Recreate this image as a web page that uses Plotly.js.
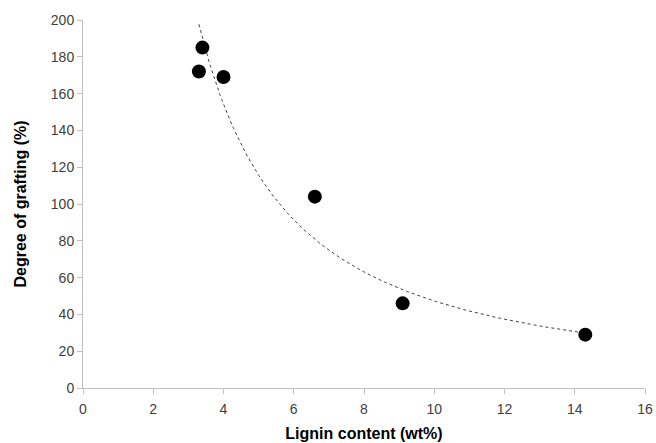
<!DOCTYPE html>
<html><head><meta charset="utf-8">
<script src="https://cdn.plot.ly/plotly-3.0.1.min.js"></script>
<style>html,body{margin:0;padding:0;background:#fff}#chart{width:656px;height:443px}</style>
</head><body><div id="chart"></div>
<script>
const ligninContent = [3.3, 3.4, 4.0, 6.6, 9.1, 14.3];
const degreeGrafting = [172, 185, 169, 104, 46, 29];
const xTicks = [0, 2, 4, 6, 8, 10, 12, 14, 16];
const yTicks = [0, 20, 40, 60, 80, 100, 120, 140, 160, 180, 200];

// Power trendline (least squares in log-log space), as Excel does
const lx = ligninContent.map(Math.log), ly = degreeGrafting.map(Math.log);
const n = lx.length;
const mx = lx.reduce((a,b)=>a+b,0)/n, my = ly.reduce((a,b)=>a+b,0)/n;
let sxy=0, sxx=0;
for (let i=0;i<n;i++){ sxy += (lx[i]-mx)*(ly[i]-my); sxx += (lx[i]-mx)**2; }
const b = sxy/sxx, a = Math.exp(my - b*mx);
const xMin = Math.min(...ligninContent), xMax = Math.max(...ligninContent);
const fitX = [], fitY = [];
for (let k=0;k<=200;k++){ const x = xMin + (xMax-xMin)*k/200; fitX.push(x); fitY.push(a*Math.pow(x,b)); }

const axisFont = {family:'"Liberation Sans", Arial, sans-serif', size:14, color:'#404040'};
const titleFont = {family:'"Liberation Sans", Arial, sans-serif', size:16, color:'#000', weight:'bold'};

Plotly.newPlot('chart', [
  {x: fitX, y: fitY, mode:'lines', line:{color:'#404040', width:1, dash:'dot'}, hoverinfo:'skip', showlegend:false},
  {x: ligninContent, y: degreeGrafting, mode:'markers', marker:{color:'#000', size:14}, showlegend:false}
], {
  width:656, height:443,
  margin:{l:83, r:11, t:20, b:55},
  paper_bgcolor:'#fff', plot_bgcolor:'#fff',
  xaxis:{range:[0,16], tickvals:xTicks, ticktext:xTicks.map(String), showgrid:false, zeroline:false,
    showline:true, linecolor:'#bfbfbf', linewidth:1, ticks:'outside', ticklen:5, tickcolor:'#bfbfbf',
    ticklabelstandoff:3,
    tickfont:axisFont, title:{text:'Lignin content (wt%)', font:titleFont, standoff:12}},
  yaxis:{range:[0,200], tickvals:yTicks, ticktext:yTicks.map(String), showgrid:false, zeroline:false,
    showline:true, linecolor:'#bfbfbf', linewidth:1, ticks:'outside', ticklen:5, tickcolor:'#bfbfbf',
    tickfont:axisFont, title:{text:'Degree of grafting (%)', font:titleFont, standoff:20}}
}, {staticPlot:true});
</script></body></html>
